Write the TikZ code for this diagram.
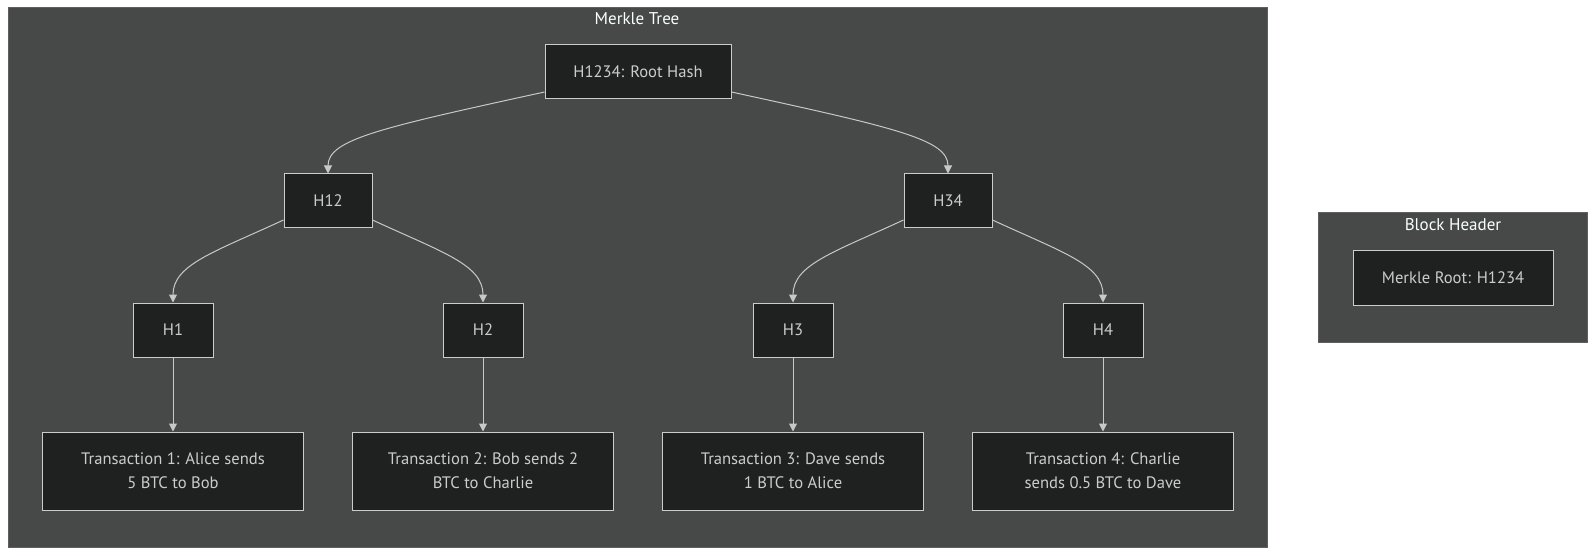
\documentclass[tikz,border=0pt]{standalone}
\usepackage{fontspec}
\setmainfont{PT Sans}
\usetikzlibrary{arrows.meta}
\definecolor{clbg}{HTML}{474949}
\definecolor{clbd}{HTML}{5E6060}
\definecolor{ndbg}{HTML}{1F2020}
\definecolor{ndbd}{HTML}{CCCCCC}
\definecolor{ndtx}{HTML}{CCCCCC}
\definecolor{lncl}{HTML}{C8C8C8}
\definecolor{tttx}{HTML}{F9FFFE}
\tikzset{
  hashbox/.style={draw=ndbd, fill=ndbg, text=ndtx, line width=1pt, inner sep=0pt,
    minimum height=54pt, align=center, font=\fontsize{16.6}{24}\selectfont},
  clusterbox/.style={draw=clbd, fill=clbg, line width=1pt},
  clustertitle/.style={text=tttx, font=\fontsize{17}{20}\selectfont, inner sep=0pt},
  link/.style={draw=lncl, line width=1pt, -{Triangle[length=8pt,width=8pt]}}
}
\begin{document}
\begin{tikzpicture}[x=1pt,y=-1pt]
\useasboundingbox (0,0) rectangle (1596,556);
% clusters
\path[clusterbox] (8,8) rectangle (1267,547);
\node[clustertitle] (tMT) at (637,19) {Merkle Tree};
\path[clusterbox] (1318,213) rectangle (1587,342);
\node[clustertitle] (tBH) at (1453,225) {Block Header};
% nodes
\node[hashbox, minimum width=186pt] (root) at (638,72) {H1234: Root Hash};
\node[hashbox, minimum width=88pt] (h12) at (328,201) {H12};
\node[hashbox, minimum width=88pt] (h34) at (948,201) {H34};
\node[hashbox, minimum width=80pt] (h1) at (173,330) {H1};
\node[hashbox, minimum width=80pt] (h2) at (483,330) {H2};
\node[hashbox, minimum width=80pt] (h3) at (793,330) {H3};
\node[hashbox, minimum width=80pt] (h4) at (1103,330) {H4};
\node[hashbox, minimum width=261pt, minimum height=78pt] (t1) at (173,471) {Transaction 1: Alice sends\\5 BTC to Bob};
\node[hashbox, minimum width=261pt, minimum height=78pt] (t2) at (483,471) {Transaction 2: Bob sends 2\\BTC to Charlie};
\node[hashbox, minimum width=261pt, minimum height=78pt] (t3) at (793,471) {Transaction 3: Dave sends\\1 BTC to Alice};
\node[hashbox, minimum width=261pt, minimum height=78pt] (t4) at (1103,471) {Transaction 4: Charlie\\sends 0.5 BTC to Dave};
\node[hashbox, minimum width=200pt] (mr) at (1453,278) {Merkle Root: H1234};
% edges
\draw[link] ([yshift=-20pt]root.west) .. controls +(-165,36) and +(0,-34) .. (h12.north);
\draw[link] ([yshift=-20pt]root.east) .. controls +(165,36) and +(0,-34) .. (h34.north);
\draw[link] ([yshift=-19pt]h12.west) .. controls +(-69,32) and +(0,-38) .. (h1.north);
\draw[link] ([yshift=-19pt]h12.east) .. controls +(69,32) and +(0,-38) .. (h2.north);
\draw[link] ([yshift=-19pt]h34.west) .. controls +(-69,32) and +(0,-38) .. (h3.north);
\draw[link] ([yshift=-19pt]h34.east) .. controls +(69,32) and +(0,-38) .. (h4.north);
\draw[link] (h1) -- (t1);
\draw[link] (h2) -- (t2);
\draw[link] (h3) -- (t3);
\draw[link] (h4) -- (t4);
\end{tikzpicture}
\end{document}
